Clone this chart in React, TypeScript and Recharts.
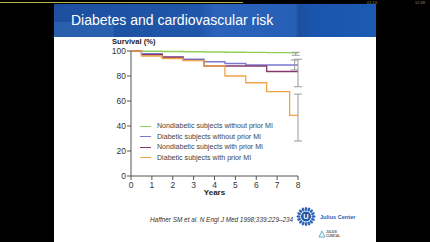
import { ComposedChart, Line, Scatter, ErrorBar, XAxis, YAxis, Legend, Label } from "recharts"

// years at which the Kaplan-Meier steps happen
const years = [0, 0.5, 1.5, 2.5, 3.5, 4.5, 5.5, 6.5, 7.6, 8]
const nondiabNoMI = [100, 99.8, 99.6, 99.4, 99.2, 99, 98.9, 98.7, 98.5, 98.4]
const diabNoMI = [100, 97.8, 95.2, 93.4, 91.4, 90, 88.8, 88.8, 88.8, 88.8]
const nondiabMI = [100, 97, 95, 92.5, 88, 88, 88, 83.6, 83.6, 83.6]
const diabMI = [100, 96, 94, 92.3, 88, 80, 74.6, 67.5, 48.5, 48.5]

const yTicks = [0, 20, 40, 60, 80, 100]
const xTicks = [0, 1, 2, 3, 4, 5, 6, 7, 8]

// error bars at the end of follow-up: [below, above]
const endErrors = [
  { x: 7.89, y: 98.4, err: [1.8, 0.6] },
  { x: 7.84, y: 88.8, err: [4, 4] },
  { x: 8, y: 83.6, err: [12.2, 9.8] },
  { x: 8, y: 48.5, err: [20.5, 17] },
]

const series = [
  { key: "a", name: "Nondiabetic subjects without prior MI", color: "#92cf5a", values: nondiabNoMI },
  { key: "b", name: "Diabetic subjects without prior MI", color: "#7b78d2", values: diabNoMI },
  { key: "c", name: "Nondiabetic subjects with prior MI", color: "#86386c", values: nondiabMI },
  { key: "d", name: "Diabetic subjects with prior MI", color: "#f0a445", values: diabMI },
]

const data = years.map((x, i) => {
  const row: Record<string, number> = { x }
  series.forEach((s) => (row[s.key] = s.values[i]))
  return row
})

const font = "Arial, 'Liberation Sans', sans-serif"

function LegendBox() {
  return (
    <div style={{ fontFamily: font, fontSize: 7.1, color: "#444" }}>
      {series.map((s) => (
        <div key={s.key} style={{ display: "flex", alignItems: "center", height: 10.5, whiteSpace: "nowrap" }}>
          <span style={{ display: "inline-block", width: 11, height: 1.3, background: s.color, marginRight: 6 }} />
          {s.name}
        </div>
      ))}
    </div>
  )
}

function Logo() {
  const petals = Array.from({ length: 16 }, (_, i) => i * 22.5)
  return (
    <svg width={90} height={42} style={{ position: "absolute", left: 285, top: 200 }}>
      <g transform="translate(21,16.5)">
        {petals.map((a) => (
          <ellipse key={a} cx={0} cy={-7.5} rx={1.3} ry={2} fill="#2b63b8" transform={`rotate(${a})`} />
        ))}
        <circle r={5} fill="#1f56a8" />
        <text x={0} y={2.6} textAnchor="middle" fontSize={7.5} fontWeight="bold" fill="#fff" fontFamily={font}>U</text>
      </g>
      <text x={35} y={19} fontSize={5.6} fontWeight="bold" fill="#2b63b8" fontFamily={font}>Julius Center</text>
      <path d="M34 37 L37 31 L40 37 Z" fill="none" stroke="#3aa3c0" strokeWidth={0.8} />
      <text x={41} y={33} fontSize={3} fontWeight="bold" fill="#555" fontFamily={font}>JULIUS</text>
      <text x={41} y={36.5} fontSize={3} fontWeight="bold" fill="#555" fontFamily={font}>CLINICAL</text>
    </svg>
  )
}

export default function App() {
  return (
    <div style={{ position: "absolute", left: 0, top: 0, width: 430, height: 242, background: "#000", overflow: "hidden" }}>
      {/* player bar */}
      <div style={{ position: "absolute", left: 0, top: 2, width: 243, height: 1, background: "#b8b84c" }} />
      <div style={{ position: "absolute", left: 367, top: 0, fontSize: 4, color: "#8c8c55", fontFamily: font }}>01:13</div>
      <div style={{ position: "absolute", left: 415, top: 0, fontSize: 4, color: "#888", fontFamily: font }}>12:48</div>

      {/* slide */}
      <div style={{ position: "absolute", left: 54, top: 4, width: 322, height: 238, background: "#fff" }} />
      <div
        style={{
          position: "absolute",
          left: 54,
          top: 4,
          width: 322,
          height: 33,
          background: "linear-gradient(90deg, #1d4f9e 0%, #1f56aa 45%, #2a63b9 50%, #2660b6 75%, #1c4f9c 76%, #1a55ad 80%, #1c5ab3 100%)",
        }}
      />
      <div style={{ position: "absolute", left: 54, top: 22, width: 60, height: 15, background: "#2f66b3", opacity: 0.7 }} />
      <div style={{ position: "absolute", left: 71, top: 12, fontSize: 14, color: "#fff", fontFamily: font, whiteSpace: "nowrap" }}>
        Diabetes and cardiovascular risk
      </div>

      <div style={{ position: "absolute", left: 112, top: 37, fontSize: 7.6, fontWeight: "bold", color: "#222", fontFamily: font }}>
        Survival (%)
      </div>

      <div style={{ position: "absolute", left: 0, top: 0 }}>
        <ComposedChart width={430} height={242} data={data} margin={{ top: 51, right: 132, bottom: 36, left: 91 }}>
          <XAxis
            dataKey="x"
            type="number"
            domain={[0, 8]}
            ticks={xTicks}
            height={30}
            tickSize={4}
            tickMargin={1.5}
            stroke="#555"
            tick={{ fill: "#333", fontSize: 8.5, fontFamily: font }}
          >
            <Label value="Years" position="insideBottom" offset={11} style={{ fontSize: 8, fontWeight: "bold", fill: "#222", fontFamily: font }} />
          </XAxis>
          <YAxis
            type="number"
            domain={[0, 100]}
            ticks={yTicks}
            width={40}
            tickSize={4}
            tickMargin={1}
            stroke="#555"
            tick={{ fill: "#333", fontSize: 8.5, fontFamily: font }}
          />
          {series.map((s) => (
            <Line
              key={s.key}
              type="stepAfter"
              dataKey={s.key}
              name={s.name}
              stroke={s.color}
              strokeWidth={1.3}
              dot={false}
              isAnimationActive={false}
            />
          ))}
          <Scatter data={endErrors} dataKey="y" legendType="none" shape={() => <g />} isAnimationActive={false}>
            <ErrorBar dataKey="err" direction="y" width={4} stroke="#999" strokeWidth={1} />
          </Scatter>
          <Legend
            layout="vertical"
            align="center"
            verticalAlign="middle"
            wrapperStyle={{ left: 140, top: 121, width: 160 }}
            content={() => <LegendBox />}
          />
        </ComposedChart>
      </div>

      <div style={{ position: "absolute", left: 150, top: 216, fontSize: 6.4, fontStyle: "italic", color: "#333", fontFamily: font, whiteSpace: "nowrap" }}>
        Haffner SM et al. N Engl J Med 1998;339:229–234
      </div>
      <Logo />
    </div>
  )
}
